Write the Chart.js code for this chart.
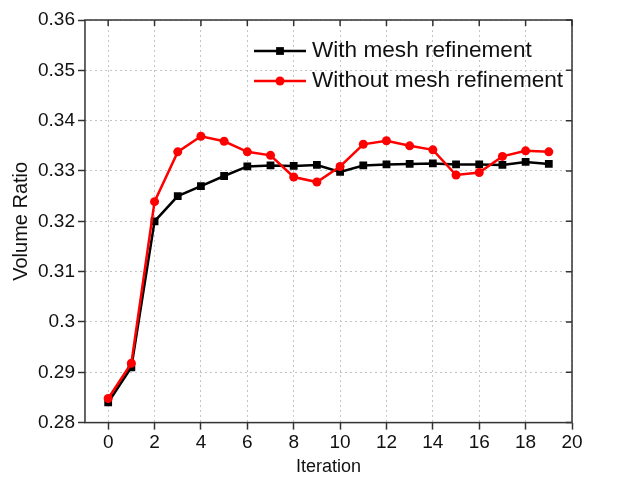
<!DOCTYPE html>
<html>
<head>
<meta charset="utf-8">
<script src="https://cdn.jsdelivr.net/npm/chart.js@4/dist/chart.umd.min.js"></script>
<style>
  html, body { margin: 0; padding: 0; background: #fff; }
  #wrap { width: 630px; height: 480px; }
</style>
</head>
<body>
<div id="wrap"><canvas id="myChart" width="630" height="480"></canvas></div>
<script>
// iteration index and volume ratio per run
const iterations = [0, 1, 2, 3, 4, 5, 6, 7, 8, 9, 10, 11, 12, 13, 14, 15, 16, 17, 18, 19];
const withRefinement = [0.284, 0.291, 0.320, 0.325, 0.327, 0.329, 0.3309, 0.3311, 0.3310, 0.3312,
  0.3298, 0.3311, 0.3313, 0.3314, 0.3315, 0.3313, 0.3313, 0.3312, 0.3318, 0.3314];
const withoutRefinement = [0.2848, 0.2918, 0.3239, 0.3338, 0.3369, 0.3359, 0.3338, 0.3331, 0.3288, 0.3278,
  0.3309, 0.3353, 0.3360, 0.3350, 0.3342, 0.3292, 0.3297, 0.3329, 0.3340, 0.3338];
const xTickValues = [0, 2, 4, 6, 8, 10, 12, 14, 16, 18, 20];
const labelWith = 'With mesh refinement';
const labelWithout = 'Without mesh refinement';

const FONT = '"Liberation Sans", Arial, sans-serif';
const AXIS = '#333';

// frame, inward ticks on top/right and an in-plot legend
const framePlugin = {
  id: 'frame',
  afterDraw(chart) {
    const ctx = chart.ctx;
    const a = chart.chartArea;
    const xs = chart.scales.x, ys = chart.scales.y;
    ctx.save();
    ctx.strokeStyle = AXIS;
    ctx.lineWidth = 1.5;
    ctx.strokeRect(a.left, a.top, a.right - a.left, a.bottom - a.top);
    ctx.beginPath();
    xs.ticks.forEach(t => {
      const px = xs.getPixelForValue(t.value);
      ctx.moveTo(px, a.top);
      ctx.lineTo(px, a.top + 6);
    });
    ys.ticks.forEach(t => {
      const py = ys.getPixelForValue(t.value);
      ctx.moveTo(a.right, py);
      ctx.lineTo(a.right - 6, py);
    });
    ctx.stroke();

    // legend
    const x0 = a.right - 318, x1 = a.right - 266;
    chart.data.datasets.slice().sort((p, q) => p.legendIndex - q.legendIndex).forEach((ds, i) => {
      const y = a.top + 31 + i * 30;
      ctx.strokeStyle = ds.borderColor;
      ctx.lineWidth = ds.borderWidth;
      ctx.beginPath();
      ctx.moveTo(x0, y);
      ctx.lineTo(x1, y);
      ctx.stroke();
      ctx.fillStyle = ds.pointBackgroundColor;
      Chart.helpers.drawPoint(ctx, {pointStyle: ds.pointStyle, radius: ds.pointRadius, borderWidth: 0}, (x0 + x1) / 2, y);
      ctx.fillStyle = '#111';
      ctx.font = '22.6px ' + FONT;
      ctx.textBaseline = 'middle';
      ctx.textAlign = 'left';
      ctx.fillText(ds.label, x1 + 6, y);
    });
    ctx.restore();
  }
};

const gridOpts = {
  color: '#c4c4c4',
  lineWidth: 1,
  drawTicks: true,
  tickLength: 7,
  tickColor: AXIS,
  tickWidth: 1.5,
  tickBorderDash: []
};

const ctx = document.getElementById('myChart').getContext('2d');
const myChart = new Chart(ctx, {
  type: 'line',
  data: {
    labels: iterations,
    datasets: [{
      label: labelWith,
      legendIndex: 0,
      order: 2,
      data: iterations.map((it, i) => ({x: it, y: withRefinement[i]})),
      borderColor: '#000',
      backgroundColor: '#000',
      pointBackgroundColor: '#000',
      pointBorderColor: '#000',
      borderWidth: 2.5,
      pointStyle: 'rect',
      pointRadius: 5.5,
      pointBorderWidth: 0,
      tension: 0
    }, {
      label: labelWithout,
      legendIndex: 1,
      order: 1,
      data: iterations.map((it, i) => ({x: it, y: withoutRefinement[i]})),
      borderColor: '#f00',
      backgroundColor: '#f00',
      pointBackgroundColor: '#f00',
      pointBorderColor: '#f00',
      borderWidth: 2.5,
      pointStyle: 'circle',
      pointRadius: 4.5,
      pointBorderWidth: 0,
      tension: 0
    }]
  },
  options: {
    responsive: false,
    animation: false,
    layout: { padding: { top: 20, right: 58, left: 9, bottom: 2 } },
    scales: {
      x: {
        type: 'linear',
        min: -1,
        max: 20,
        afterBuildTicks: s => { s.ticks = xTickValues.map(v => ({value: v})); },
        grid: gridOpts,
        border: { display: false, dash: [2, 3] },
        ticks: { color: '#111', font: { family: FONT, size: 19 }, padding: 2, maxRotation: 0 },
        title: { display: true, text: 'Iteration', color: '#111', font: { family: FONT, size: 18 }, padding: { top: 0, bottom: 0 } }
      },
      y: {
        type: 'linear',
        min: 0.28,
        max: 0.36,
        ticks: {
          stepSize: 0.01,
          color: '#111',
          font: { family: FONT, size: 19 },
          padding: 3,
          callback: v => String(+v.toFixed(2))
        },
        grid: gridOpts,
        border: { display: false, dash: [2, 3] },
        title: { display: true, text: 'Volume Ratio', color: '#111', font: { family: FONT, size: 20 }, padding: { top: 0, bottom: 2 } }
      }
    },
    plugins: {
      legend: { display: false },
      tooltip: { enabled: false }
    }
  },
  plugins: [framePlugin]
});
</script>
</body>
</html>
